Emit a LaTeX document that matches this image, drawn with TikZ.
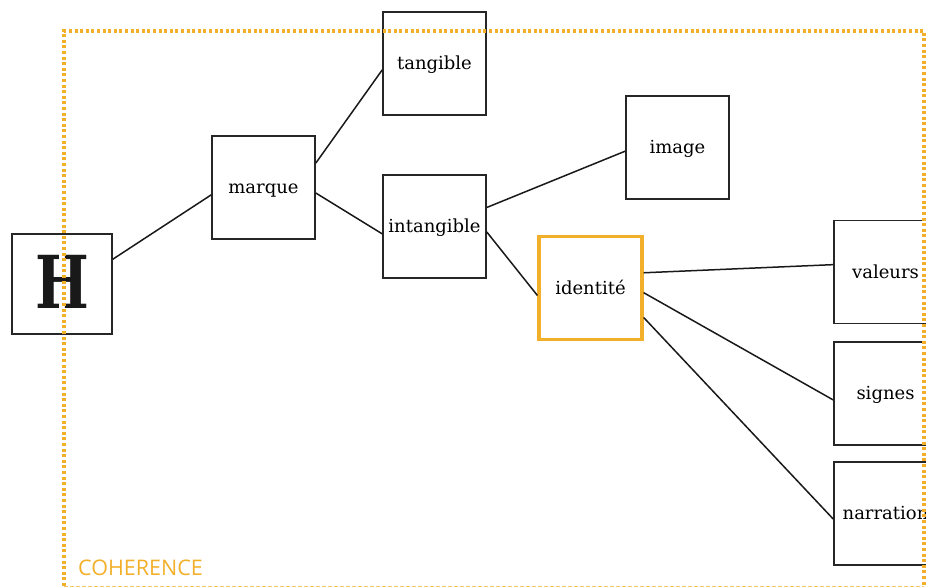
\documentclass[tikz,border=0pt]{standalone}
\usepackage{fontspec}
\setmainfont{DejaVu Serif}
\newfontfamily\labelfont{Open Sans}
\definecolor{coherence}{HTML}{F2B02A}
\begin{document}
\begin{tikzpicture}[x=1pt,y=-1pt,
		box/.style={draw=black!85,line width=1.6pt,fill=white,minimum width=103pt,minimum height=103pt,inner sep=0pt,text height=15pt,text depth=3pt,font=\fontsize{18}{20}\selectfont},
		link/.style={line width=1.5pt,black!90}]
			\clip (0,0) rectangle (926,587);
			\node [box,minimum width=100pt,minimum height=100pt,text height=48pt,text depth=0pt,text=black!90] (H) at (62,284) {\scalebox{0.78}[1]{\fontsize{73}{73}\selectfont\bfseries H}};
			\node [box] (marque) at (263.5,187.5) {marque};
			\node [box] (tangible) at (434.5,63.5) {tangible};
			\node [box] (intangible) at (434.5,226.5) {intangible};
			\node [box] (image) at (677.5,147.5) {image};
			\node [box,draw=coherence,line width=3.2pt] (identite) at (590.5,288) {identité};
			\node [box] (valeurs) at (885.5,272) {valeurs};
			\node [box] (signes) at (885.5,393.5) {signes};
			\node [box] (narration) at (885.5,513.5) {narration};
			\draw [link] (H.26.6) to (marque.188);
			\draw [link] (marque.25.4) to (tangible.187);
			\draw [link] (marque.-6) to (intangible.188);
			\draw [link] (intangible.20) to (image.184);
			\draw [link] (intangible.-6) to (identite.188);
			\draw [link] (identite.16) to (valeurs.172);
			\draw [link] (identite.-5.5) to (signes.187);
			\draw [link] (identite.-29.4) to (narration.186);
			\coordinate (NW) at (64,31);
			\coordinate (NE) at (924,31);
			\coordinate (SE) at (924,586);
			\coordinate (SW) at (64,586);
			\draw [coherence,line width=3.2pt,dash pattern=on 3pt off 2.6pt] (SW) to (NW) to (NE) to (SE);
			\draw [coherence!70,line width=0.8pt,dash pattern=on 4pt off 2pt] (SW) to (SE);
			\node [anchor=base west,inner sep=0pt,text=coherence,font=\labelfont\fontsize{21.5}{24}\selectfont] (label) at (78,575) {COHERENCE};
		\end{tikzpicture}
\end{document}
